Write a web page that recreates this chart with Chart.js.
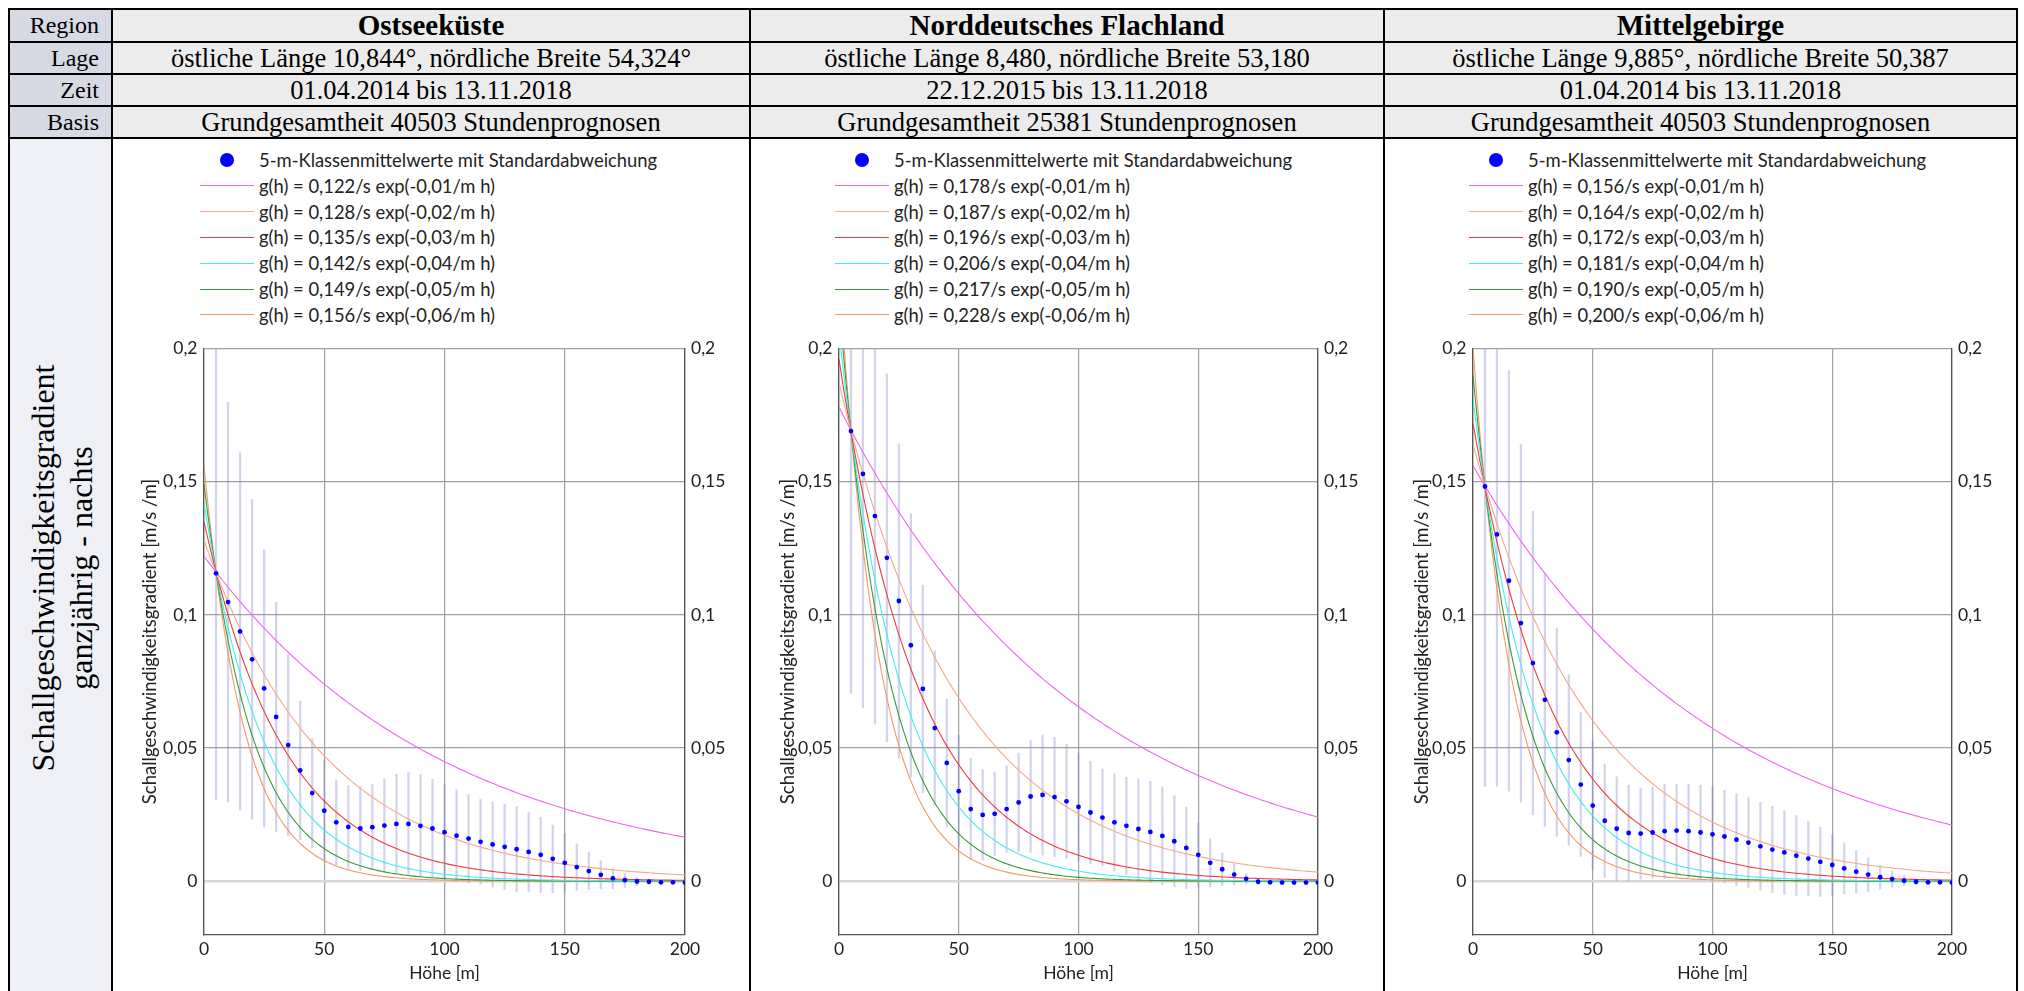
<!DOCTYPE html>
<html>
<head>
<meta charset="utf-8">
<script src="https://cdn.jsdelivr.net/npm/chart.js@4.4.1/dist/chart.umd.min.js"></script>
<style>
  body { margin: 0; width: 2024px; height: 991px; overflow: hidden; background: #fff; position: relative; }
  .cell { position: absolute; box-sizing: border-box; display: flex; align-items: center; justify-content: center;
          font-family: 'Liberation Serif', 'Times New Roman', serif; color: #000; white-space: nowrap; }
  .lbl { justify-content: flex-end; padding-right: 13px; background: #d7d9e4; font-size: 24px; }
  .val { background: #ececec; font-size: 26.5px; }
  .bold { font-weight: bold; font-size: 29px; }
  .hl { position: absolute; background: #000; }
  .rot { position: absolute; font-family: 'Liberation Serif', serif; font-size: 32px; line-height: 38px; text-align: center;
         transform: translate(-50%, -50%) rotate(-90deg); white-space: nowrap; }
  canvas { position: absolute; }
  .leg { position: absolute; font-family: Lato, sans-serif; font-size: 18.4px; color: #222; }
  .row { position: absolute; left: 0; height: 26px; display: flex; align-items: center; white-space: nowrap; }
  .sample { width: 54px; height: 0; margin-right: 5px; }
  .dot { width: 14px; height: 14px; border-radius: 50%; background: #0000ff; margin: 0 25px 0 20px; }
</style>
</head>
<body>
<div id="table"></div>
<canvas id="c0"></canvas>
<canvas id="c1"></canvas>
<canvas id="c2"></canvas>
<script>
// Tabellenkopf
const rowLabels = ['Region', 'Lage', 'Zeit', 'Basis'];
const regions = ['Ostseeküste', 'Norddeutsches Flachland', 'Mittelgebirge'];
const lage = ['östliche Länge 10,844°, nördliche Breite 54,324°', 'östliche Länge 8,480, nördliche Breite 53,180', 'östliche Länge 9,885°, nördliche Breite 50,387'];
const zeit = ['01.04.2014 bis 13.11.2018', '22.12.2015 bis 13.11.2018', '01.04.2014 bis 13.11.2018'];
const basis = ['Grundgesamtheit 40503 Stundenprognosen', 'Grundgesamtheit 25381 Stundenprognosen', 'Grundgesamtheit 40503 Stundenprognosen'];

// Achsen
const xTicks = [0, 50, 100, 150, 200];
const yTicks = [0, 0.05, 0.1, 0.15, 0.2];
const heights = [5, 10, 15, 20, 25, 30, 35, 40, 45, 50, 55, 60, 65, 70, 75, 80, 85, 90, 95, 100,
                 105, 110, 115, 120, 125, 130, 135, 140, 145, 150, 155, 160, 165, 170, 175, 180, 185, 190, 195, 200];

// 5-m-Klassenmittelwerte
const meanOstsee = [0.1156, 0.1048, 0.0938, 0.0833, 0.0724, 0.0617, 0.0511, 0.0416, 0.0331, 0.0265,
                    0.0221, 0.0204, 0.0198, 0.0203, 0.0209, 0.0215, 0.0215, 0.0208, 0.0198, 0.0184,
                    0.0171, 0.0160, 0.0148, 0.0138, 0.0129, 0.0120, 0.0110, 0.0099, 0.0084, 0.0069,
                    0.0053, 0.0038, 0.0024, 0.0011, 0.0004, -0.0001, -0.0002, -0.0004, -0.0004, -0.0005];
const meanFlachland = [0.1690, 0.1529, 0.1371, 0.1214, 0.1052, 0.0886, 0.0722, 0.0575, 0.0444, 0.0338,
                       0.0271, 0.0249, 0.0253, 0.0271, 0.0296, 0.0318, 0.0324, 0.0316, 0.0300, 0.0279,
                       0.0258, 0.0239, 0.0221, 0.0208, 0.0196, 0.0185, 0.0170, 0.0150, 0.0125, 0.0099,
                       0.0069, 0.0045, 0.0025, 0.0009, -0.0002, -0.0004, -0.0005, -0.0005, -0.0005, -0.0005];
const meanMittelgebirge = [0.1482, 0.1302, 0.1128, 0.0969, 0.0819, 0.0681, 0.0559, 0.0455, 0.0363, 0.0284,
                           0.0227, 0.0197, 0.0181, 0.0179, 0.0183, 0.0188, 0.0190, 0.0188, 0.0183, 0.0176,
                           0.0168, 0.0156, 0.0145, 0.0131, 0.0119, 0.0108, 0.0096, 0.0085, 0.0073, 0.0061,
                           0.0048, 0.0036, 0.0025, 0.0015, 0.0008, 0.0002, -0.0002, -0.0004, -0.0004, -0.0005];

// Standardabweichungen
const sdOstsee = [0.085, 0.075, 0.067, 0.060, 0.052, 0.043, 0.034, 0.026, 0.0205, 0.019,
                  0.016, 0.0155, 0.0157, 0.016, 0.0175, 0.0186, 0.0193, 0.0192, 0.0185, 0.018,
                  0.0173, 0.0165, 0.016, 0.016, 0.016, 0.016, 0.015, 0.0141, 0.0127, 0.011,
                  0.0087, 0.0071, 0.0053, 0.0039, 0.0027, 0.0016, 0.0008, 0.0005, 0.0003, 0.0002];
const sdFlachland = [0.0985, 0.0877, 0.078, 0.069, 0.059, 0.0494, 0.039, 0.029, 0.024, 0.021,
                     0.019, 0.017, 0.0157, 0.0163, 0.0185, 0.021, 0.0226, 0.0224, 0.0215, 0.0202,
                     0.0192, 0.0182, 0.0182, 0.0182, 0.0188, 0.019, 0.0184, 0.0171, 0.0153, 0.012,
                     0.009, 0.0061, 0.0038, 0.002, 0.001, 0.0005, 0.0003, 0.0002, 0.0002, 0.0002];
const sdMittelgebirge = [0.1126, 0.0946, 0.079, 0.0672, 0.057, 0.0475, 0.039, 0.032, 0.027, 0.024,
                         0.0213, 0.0195, 0.018, 0.0171, 0.0171, 0.0177, 0.0175, 0.0177, 0.0177, 0.0178,
                         0.0173, 0.0172, 0.0168, 0.0165, 0.0162, 0.0157, 0.015, 0.014, 0.013, 0.0114,
                         0.0096, 0.008, 0.0063, 0.0044, 0.003, 0.0019, 0.001, 0.0006, 0.0004, 0.0003];

// Ausgleichskurven g(h) = a exp(-b h)
const fitB = [0.01, 0.02, 0.03, 0.04, 0.05, 0.06];
const fitAOstsee = [0.122, 0.128, 0.135, 0.142, 0.149, 0.156];
const fitAFlachland = [0.178, 0.187, 0.196, 0.206, 0.217, 0.228];
const fitAMittelgebirge = [0.156, 0.164, 0.172, 0.181, 0.190, 0.200];

const means = [meanOstsee, meanFlachland, meanMittelgebirge];
const sds = [sdOstsee, sdFlachland, sdMittelgebirge];
const fitA = [fitAOstsee, fitAFlachland, fitAMittelgebirge];
const curveColors = ['#ee66ee', '#f5a98a', '#ee3b3b', '#40eeee', '#3a9a3a', '#ee9a66'];

// Layout
const colX = [9, 112, 750, 1384, 2017];
const rowY = [9, 42, 74, 106, 138];
const plotX0 = [204, 839, 1473];
const plotX1 = [685, 1318, 1952];

const fmt = v => String(v).replace('.', ',');
const fmtNum = v => v.toFixed(3).replace('.', ',');
const fmtB = v => v.toFixed(2).replace('.', ',');

function buildTable() {
  const t = document.getElementById('table');
  let html = '';
  const colVals = [regions, lage, zeit, basis];
  for (let r = 0; r < 4; r++) {
    html += `<div class="cell lbl" style="left:${colX[0]}px;top:${rowY[r]}px;width:${colX[1]-colX[0]}px;height:${rowY[r+1]-rowY[r]}px">${rowLabels[r]}</div>`;
    for (let c = 0; c < 3; c++) {
      html += `<div class="cell val${r === 0 ? ' bold' : ''}" style="left:${colX[c+1]}px;top:${rowY[r]}px;width:${colX[c+2]-colX[c+1]}px;height:${rowY[r+1]-rowY[r]}px">${colVals[r][c]}</div>`;
    }
  }
  html += `<div class="cell" style="left:${colX[0]}px;top:${rowY[4]}px;width:${colX[1]-colX[0]}px;height:${991-rowY[4]}px;background:#eef0f5"></div>`;
  html += `<div class="rot" style="left:62px;top:568px">Schallgeschwindigkeitsgradient<br>ganzjährig - nachts</div>`;
  rowY.forEach(y => { html += `<div class="hl" style="left:${colX[0]}px;top:${y-1}px;width:${colX[4]-colX[0]+1}px;height:2px"></div>`; });
  colX.forEach(x => { html += `<div class="hl" style="left:${x-1}px;top:${rowY[0]-1}px;width:2px;height:${991-rowY[0]+1}px"></div>`; });

  // Legenden
  for (let p = 0; p < 3; p++) {
    let leg = `<div class="leg" style="left:${plotX0[p]-4}px;top:147px">`;
    leg += `<div class="row" style="top:0px"><div class="dot"></div>5-m-Klassenmittelwerte mit Standardabweichung</div>`;
    fitB.forEach((b, k) => {
      leg += `<div class="row" style="top:${(k+1)*25.8}px"><div class="sample" style="border-top:1.5px solid ${curveColors[k]}"></div>g(h) = ${fmtNum(fitA[p][k])}/s exp(-${fmtB(b)}/m h)</div>`;
    });
    leg += '</div>';
    html += leg;
  }
  t.innerHTML = html;
}

function makeChart(p) {
  const canvas = document.getElementById('c' + p);
  const left = colX[p+1] + 2, right = colX[p+2] - 2;
  const top = 330, height = 991 - top;
  canvas.style.left = left + 'px';
  canvas.style.top = top + 'px';
  canvas.width = right - left;
  canvas.height = height;
  const leftW = plotX0[p] - left;
  const rightW = right - plotX1[p];

  const curveH = [];
  for (let h = 0; h <= 200; h += 1) curveH.push(h);

  const datasets = [{
    type: 'scatter',
    data: heights.map((h, i) => ({ x: h, y: means[p][i] })),
    backgroundColor: '#0000ff',
    borderWidth: 0,
    pointRadius: 2.4,
    order: 0
  }];
  fitB.forEach((b, k) => {
    datasets.push({
      type: 'line',
      data: curveH.map(h => ({ x: h, y: fitA[p][k] * Math.exp(-b * h) })),
      borderColor: curveColors[k],
      borderWidth: 1.1,
      pointRadius: 0,
      order: 1
    });
  });
  datasets.push({
    type: 'bar',
    data: heights.map((h, i) => ({ x: h, y: [means[p][i] - sds[p][i], means[p][i] + sds[p][i]] })),
    backgroundColor: 'rgba(140,140,210,0.38)',
    barThickness: 1.6,
    order: 2
  });

  const tickFont = { family: 'Lato', size: 17.5 };
  const titleFont = { family: 'Lato', size: 18.5 };
  new Chart(canvas, {
    type: 'scatter',
    data: { datasets: datasets },
    options: {
      responsive: false,
      animation: false,
      devicePixelRatio: 1,
      layout: { padding: { top: 18.5, left: 0, right: 0, bottom: 0 } },
      plugins: { legend: { display: false }, tooltip: { enabled: false } },
      scales: {
        x: {
          type: 'linear', min: 0, max: 200, offset: false,
          afterBuildTicks: s => { s.ticks = xTicks.map(v => ({ value: v })); },
          afterFit: s => { s.height = 56.5; },
          grid: { color: '#a0a0a0', lineWidth: 1.2, drawTicks: false, offset: false },
          border: { color: '#555', width: 1.3 },
          ticks: { font: tickFont, color: '#222', padding: 4.5, maxRotation: 0 },
          title: { display: true, text: 'Höhe [m]', font: tickFont, color: '#222', padding: { top: 0, bottom: 7.5 } }
        },
        y: {
          type: 'linear', position: 'left', min: -0.02, max: 0.2,
          afterBuildTicks: s => { s.ticks = yTicks.map(v => ({ value: v })); },
          afterFit: s => { s.width = leftW; },
          grid: {
            drawTicks: false,
            color: c => (c.tick && c.tick.value === 0) ? '#d8d8d8' : '#a0a0a0',
            lineWidth: c => (c.tick && c.tick.value === 0) ? 2.5 : 1.2
          },
          border: { color: '#555', width: 1.3 },
          ticks: { font: tickFont, color: '#222', padding: 6.5, callback: v => fmt(v) },
          title: { display: true, text: 'Schallgeschwindigkeitsgradient [m/s /m]', font: titleFont, color: '#222', padding: { top: 24.9, bottom: 0 } }
        },
        y2: {
          type: 'linear', position: 'right', min: -0.02, max: 0.2,
          afterBuildTicks: s => { s.ticks = yTicks.map(v => ({ value: v })); },
          afterFit: s => { s.width = rightW; },
          grid: { display: false, drawTicks: false },
          border: { color: '#555', width: 1.3 },
          ticks: { font: tickFont, color: '#222', padding: 6, callback: v => fmt(v) }
        }
      }
    }
  });
}

buildTable();
for (let p = 0; p < 3; p++) makeChart(p);
</script>
</body>
</html>
